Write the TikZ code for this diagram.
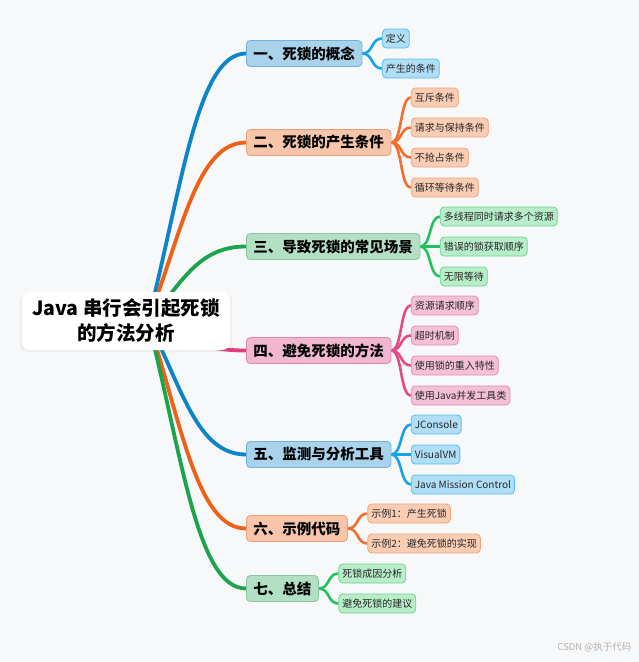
\documentclass[tikz,border=0pt]{standalone}
\usepackage{fontspec}
\setmainfont{Noto Sans CJK SC}
\usepackage{xcolor}
\usetikzlibrary{calc, backgrounds, shadows}
\definecolor{bg}{HTML}{F7F8FA}
% branch colours: L trunk, F/D main box, f/d leaf box, l twig
\definecolor{bluL}{HTML}{0B84C8}\definecolor{bluF}{HTML}{A9D3EB}\definecolor{bluD}{HTML}{6DB5E0}
\definecolor{bluf}{HTML}{B0DEF7}\definecolor{blud}{HTML}{55BDF0}\definecolor{blul}{HTML}{19A2EC}
\definecolor{orgL}{HTML}{EE6117}\definecolor{orgF}{HTML}{F6C5AA}\definecolor{orgD}{HTML}{F0A077}
\definecolor{orgf}{HTML}{F9CDB4}\definecolor{orgd}{HTML}{F4A373}\definecolor{orgl}{HTML}{F16E2C}
\definecolor{grnL}{HTML}{1CA44C}\definecolor{grnF}{HTML}{B3E0C5}\definecolor{grnD}{HTML}{85C9A0}
\definecolor{grnf}{HTML}{B7EDC8}\definecolor{grnd}{HTML}{6BD592}\definecolor{grnl}{HTML}{22C35C}
\definecolor{pnkL}{HTML}{E03C7D}\definecolor{pnkF}{HTML}{F1B7CF}\definecolor{pnkD}{HTML}{E386B0}
\definecolor{pnkf}{HTML}{F4C0D6}\definecolor{pnkd}{HTML}{E98BB4}\definecolor{pnkl}{HTML}{E24A88}
\tikzset{
  root/.style={rectangle, rounded corners=8pt, fill=white, minimum width=208pt,
               minimum height=58pt, align=center, font=\fontsize{19.5}{25}\selectfont\bfseries,
               drop shadow={opacity=0.08, shadow xshift=0pt, shadow yshift=-1.5pt, shadow scale=1.02}},
  main/.style={rectangle, rounded corners=4pt, draw=#1D, fill=#1F, line width=0.9pt,
               minimum height=26pt, inner xsep=7pt, anchor=west,
               font=\fontsize{14.5}{16}\selectfont\bfseries},
  leaf/.style={rectangle, rounded corners=4pt, draw=#1d, fill=#1f, line width=0.8pt,
               minimum height=19pt, inner xsep=3.5pt, anchor=west, text=black!85,
               font=\fontsize{10}{12}\selectfont},
  trunk/.style={draw=#1L, line width=3.8pt, line cap=round},
  twig/.style={draw=#1l, line width=2.6pt}
}
\begin{document}
\begin{tikzpicture}[x=1pt, y=-1pt]
\useasboundingbox (0,0) rectangle (639,662);

\node[root] (root) at (126,321) {Java 串行会引起死锁\\的方法分析};
\coordinate (hub) at (148,321);

\node[main=blu] (m1) at (246,53.5) {一、死锁的概念};
\node[leaf=blu] (l11) at ($(m1.east)+(19.5,-15)$) {定义};
\node[leaf=blu] (l12) at ($(m1.east)+(19.5,15)$) {产生的条件};

\node[main=org] (m2) at (246,142.5) {二、死锁的产生条件};
\node[leaf=org] (l21) at ($(m2.east)+(19.5,-45)$) {互斥条件};
\node[leaf=org] (l22) at ($(m2.east)+(19.5,-15)$) {请求与保持条件};
\node[leaf=org] (l23) at ($(m2.east)+(19.5,15)$) {不抢占条件};
\node[leaf=org] (l24) at ($(m2.east)+(19.5,45)$) {循环等待条件};

\node[main=grn] (m3) at (246,246.5) {三、导致死锁的常见场景};
\node[leaf=grn] (l31) at ($(m3.east)+(19.5,-30)$) {多线程同时请求多个资源};
\node[leaf=grn] (l32) at ($(m3.east)+(19.5,0)$) {错误的锁获取顺序};
\node[leaf=grn] (l33) at ($(m3.east)+(19.5,30)$) {无限等待};

\node[main=pnk] (m4) at (246,350.5) {四、避免死锁的方法};
\node[leaf=pnk] (l41) at ($(m4.east)+(19.5,-45)$) {资源请求顺序};
\node[leaf=pnk] (l42) at ($(m4.east)+(19.5,-15)$) {超时机制};
\node[leaf=pnk] (l43) at ($(m4.east)+(19.5,15)$) {使用锁的重入特性};
\node[leaf=pnk] (l44) at ($(m4.east)+(19.5,45)$) {使用Java并发工具类};

\node[main=blu] (m5) at (246,454.5) {五、监测与分析工具};
\node[leaf=blu] (l51) at ($(m5.east)+(19.5,-30)$) {JConsole};
\node[leaf=blu] (l52) at ($(m5.east)+(19.5,0)$) {VisualVM};
\node[leaf=blu] (l53) at ($(m5.east)+(19.5,30)$) {Java Mission Control};

\node[main=org] (m6) at (246,528.5) {六、示例代码};
\node[leaf=org] (l61) at ($(m6.east)+(19.5,-15)$) {示例1：产生死锁};
\node[leaf=org] (l62) at ($(m6.east)+(19.5,15)$) {示例2：避免死锁的实现};

\node[main=grn] (m7) at (246,588.5) {七、总结};
\node[leaf=grn] (l71) at ($(m7.east)+(19.5,-15)$) {死锁成因分析};
\node[leaf=grn] (l72) at ($(m7.east)+(19.5,15)$) {避免死锁的建议};

\node[anchor=east, text=black!30, font=\fontsize{9.5}{11}\selectfont] (wm) at (635,647) {CSDN @执于代码};

\begin{scope}[on background layer]
\fill[bg] (0,0) rectangle (639,662);
\foreach \m/\c in {m1/blu, m2/org, m3/grn, m4/pnk, m5/blu, m6/org, m7/grn} {
  \coordinate (mid) at ($(hub)!.5!(\m.west)$);
  \draw[trunk=\c] (hub) .. controls ($(mid)+(-15,0)$) and (mid |- \m.west) .. (\m.west);
}
\foreach \m/\l/\c in {m1/l11/blu, m1/l12/blu, m2/l21/org, m2/l22/org, m2/l23/org, m2/l24/org,
    m3/l31/grn, m3/l32/grn, m3/l33/grn, m4/l41/pnk, m4/l42/pnk, m4/l43/pnk, m4/l44/pnk,
    m5/l51/blu, m5/l52/blu, m5/l53/blu, m6/l61/org, m6/l62/org, m7/l71/grn, m7/l72/grn}
  \draw[twig=\c] (\m.east) .. controls +(11,0) and +(-11,0) .. (\l.west);
\end{scope}
\end{tikzpicture}
\end{document}
